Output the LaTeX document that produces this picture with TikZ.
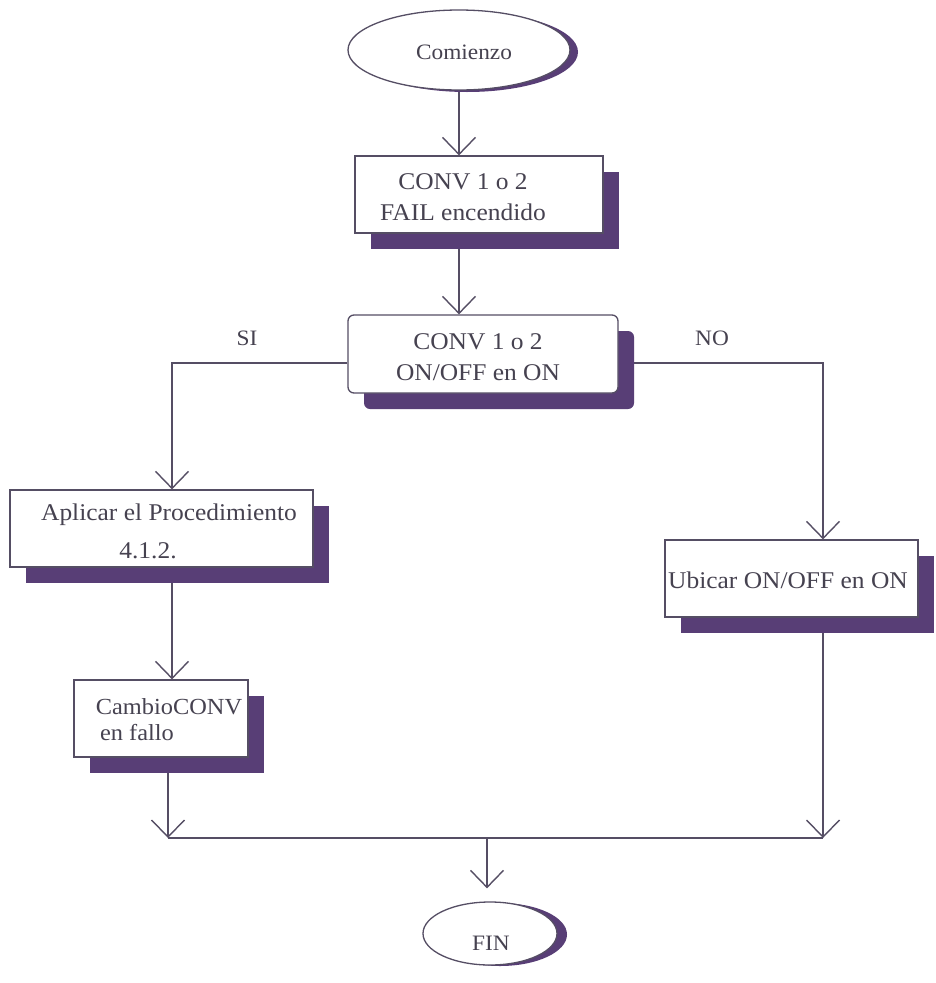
\documentclass[tikz,border=0pt]{standalone}
\usepackage{fontspec}
\setmainfont{Liberation Serif}[FakeStretch=1.06]
\usetikzlibrary{arrows.meta,shapes.geometric,shadows}
\definecolor{shadowc}{RGB}{88,62,118}
\definecolor{linec}{RGB}{85,78,100}
\definecolor{textc}{RGB}{70,66,80}
\pgfdeclarelayer{bg}
\pgfsetlayers{bg,main}
\begin{document}
\begin{tikzpicture}[x=1pt,y=-1pt,
  boxstyle/.style={draw=linec, line width=1.3pt, fill=white, rectangle, inner sep=0pt,
    drop shadow={shadow xshift=16pt, shadow yshift=-16pt, fill=shadowc, opacity=1}},
  ovalstyle/.style={draw=linec, line width=1.3pt, fill=white, ellipse, inner sep=0pt},
  txt/.style={text=textc, align=center, inner sep=0pt, font=\fontsize{24}{31}\selectfont},
  lbl/.style={text=textc, inner sep=0pt, font=\fontsize{22}{26}\selectfont},
  conn/.style={draw=linec, line width=1.4pt},
  arr/.style={conn, -{Straight Barb[length=17pt, width=33pt]}}
]
\begin{pgfonlayer}{bg}
\fill[white] (0,0) rectangle (935,983);
\end{pgfonlayer}
\useasboundingbox (0,0) rectangle (935,983);

% start / end ovals
\node[ovalstyle, minimum width=222pt, minimum height=80pt,
  drop shadow={shadow xshift=8pt, shadow yshift=-2pt, fill=shadowc, opacity=1}] (c) at (459,50) {};
\node[txt, font=\fontsize{22}{26}\selectfont] (ct) at (464,52) {Comienzo};

\node[ovalstyle, minimum width=134pt, minimum height=63pt,
  drop shadow={shadow xshift=10pt, shadow yshift=-1pt, fill=shadowc, opacity=1}] (f) at (490,933.5) {};
\node[txt, font=\fontsize{22}{26}\selectfont] (ft) at (491,943) {FIN};

% boxes
\node[boxstyle, minimum width=248pt, minimum height=77pt] (b1) at (479,194.5) {};
\node[txt] (t1) at (463,197) {CONV 1 o 2\\FAIL encendido};

\node[boxstyle, rounded corners=6pt, minimum width=270pt, minimum height=78pt] (b2) at (483,354) {};
\node[txt] (t2) at (478,357) {CONV 1 o 2\\ON/OFF en ON};

\node[boxstyle, minimum width=303pt, minimum height=77pt] (b3) at (161.5,528.5) {};
\node[txt, font=\fontsize{24}{38}\selectfont] (t3) at (169,531) {Aplicar el Procedimiento\\\hspace*{-42pt}4.1.2.};

\node[boxstyle, minimum width=174pt, minimum height=77pt] (b4) at (161,718.5) {};
\node[txt, font=\fontsize{23}{26}\selectfont] (t4) at (169,720) {CambioCONV\\\hspace*{-64pt}en fallo};

\node[boxstyle, minimum width=253pt, minimum height=77pt] (b5) at (791.5,578.5) {};
\node[txt, font=\fontsize{24}{30}\selectfont] (t5) at (788,580) {Ubicar ON/OFF en ON};

% branch labels
\node[lbl] (si) at (247,338) {SI};
\node[lbl] (no) at (712,338) {NO};

% routing points
\coordinate (siTurn) at (172,363);
\coordinate (noTurn) at (823,363);
\coordinate (jl) at (168,838);
\coordinate (jr) at (823,838);
\coordinate (jm) at (487,838);

\begin{pgfonlayer}{bg}
\draw[arr] (c.south) -- (c |- b1.north);
\draw[arr] (c |- b1.south) -- (c |- b2.north);
\draw[arr] (b2.west |- siTurn) -- (siTurn) -- (siTurn |- b3.north);
\draw[arr] (b2.east |- noTurn) -- (noTurn) -- (noTurn |- b5.north);
\draw[arr] (siTurn |- b3.south) -- (siTurn |- b4.north);
\draw[arr] (jl |- b4.south) -- (jl);
\draw[arr] (jr |- b5.south) -- (jr);
\draw[conn] (jl) -- (jr);
\draw[arr, shorten >=13pt] (jm) -- (jm |- f.north);
\end{pgfonlayer}
\end{tikzpicture}
\end{document}
